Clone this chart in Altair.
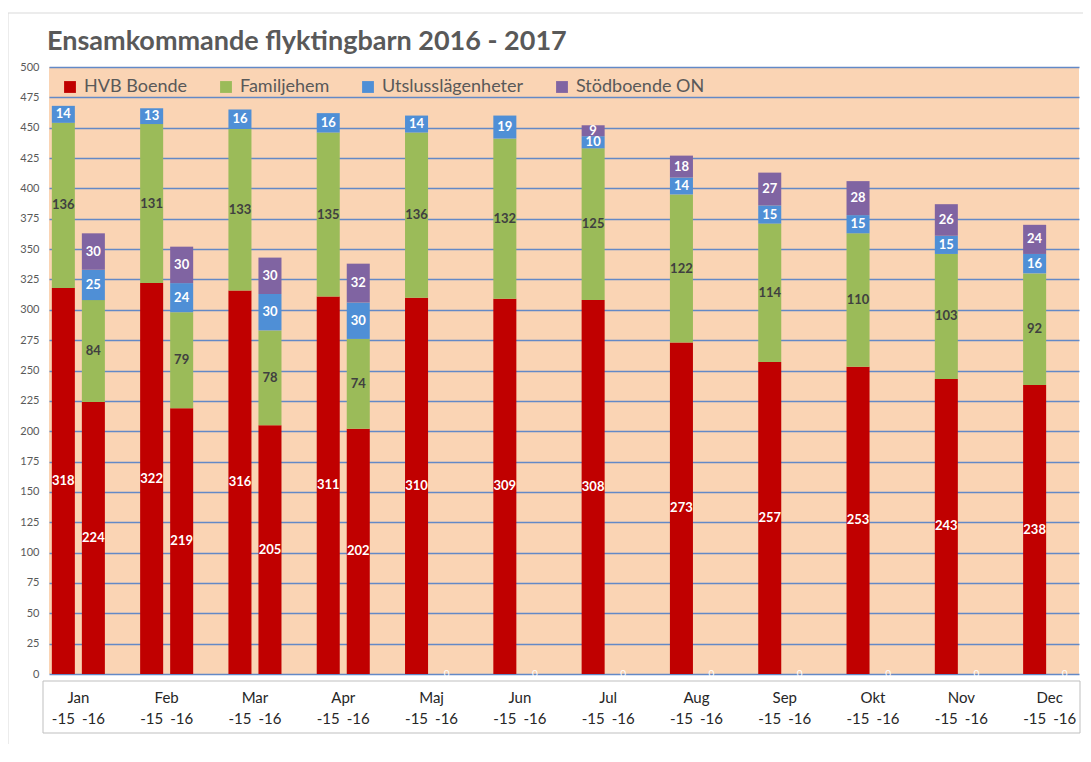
import altair as alt
import pandas as pd

months = ["Jan", "Feb", "Mar", "Apr", "Maj", "Jun", "Jul", "Aug", "Sep", "Okt", "Nov", "Dec"]
years = ["-15", "-16"]
categories = ["HVB Boende", "Familjehem", "Utslusslägenheter", "Stödboende ON"]
colors = ["#C00000", "#9BBB59", "#4F8FD6", "#8064A2"]

# bars "-15"
hvb_15 = [318, 322, 316, 311, 310, 309, 308, 273, 257, 253, 243, 238]
fam_15 = [136, 131, 133, 135, 136, 132, 125, 122, 114, 110, 103, 92]
uts_15 = [14, 13, 16, 16, 14, 19, 10, 14, 15, 15, 15, 16]
stod_15 = [0, 0, 0, 0, 0, 0, 9, 18, 27, 28, 26, 24]

# bars "-16" (only Jan-Apr)
months_16 = ["Jan", "Feb", "Mar", "Apr"]
hvb_16 = [224, 219, 205, 202]
fam_16 = [84, 79, 78, 74]
uts_16 = [25, 24, 30, 30]
stod_16 = [30, 30, 30, 32]

# "-16" slots that only show a 0 label
zero_months_16 = ["Maj", "Jun", "Jul", "Aug", "Sep", "Okt", "Nov", "Dec"]

y_ticks = list(range(0, 501, 25))

title_text = "Ensamkommande flyktingbarn 2016 - 2017"

rows = []
for i, m in enumerate(months):
    for ci, vals in enumerate([hvb_15, fam_15, uts_15, stod_15]):
        if vals[i] > 0:
            rows.append({"month": m, "year": "-15", "cat": categories[ci], "ci": ci, "value": vals[i]})
for i, m in enumerate(months_16):
    for ci, vals in enumerate([hvb_16, fam_16, uts_16, stod_16]):
        if vals[i] > 0:
            rows.append({"month": m, "year": "-16", "cat": categories[ci], "ci": ci, "value": vals[i]})
df = pd.DataFrame(rows)

zero_df = pd.DataFrame({"month": zero_months_16, "year": ["-16"] * len(zero_months_16),
                        "z": [0] * len(zero_months_16)})
year_df = pd.DataFrame([{"month": m, "year": y} for m in months for y in years])
month_df = pd.DataFrame({"month": months})

W, H = 1030, 607
FONT = "Lato"

xscale = alt.Scale(domain=months, paddingInner=0.37, paddingOuter=0.0175)
xoff_scale = alt.Scale(domain=years, paddingInner=0.233, paddingOuter=0.043)
yscale = alt.Scale(domain=[0, 500], nice=False)
yaxis = alt.Axis(values=y_ticks, domain=False, ticks=False, title=None,
                 labelColor="#595959", labelFontSize=11, labelFont=FONT,
                 labelOverlap=False, labelPadding=10,
                 gridColor="#6389C6", gridWidth=1.3)

X = alt.X("month:N", scale=xscale, axis=None, sort=months)
XO = alt.XOffset("year:N", scale=xoff_scale, sort=years)

base = alt.Chart(df).transform_stack(
    stack="value", groupby=["month", "year"], as_=["v0", "v1"],
    sort=[alt.SortField("ci", order="ascending")]
).transform_calculate(
    mid="(datum.v0 + datum.v1) / 2",
    lc="datum.cat == 'Familjehem' ? '#404040' : '#FFFFFF'"
)

bars = base.mark_bar().encode(
    x=X, xOffset=XO,
    y=alt.Y("v0:Q", scale=yscale, title=None, axis=yaxis),
    y2="v1:Q",
    color=alt.Color("cat:N", scale=alt.Scale(domain=categories, range=colors), sort=categories,
                    legend=alt.Legend(orient="none", legendX=12, legendY=11, direction="horizontal",
                                      title=None, symbolType="square", symbolSize=140,
                                      symbolStrokeWidth=0, labelFontSize=18, labelFont=FONT,
                                      labelColor="#595959", columnPadding=29, padding=0,
                                      labelOffset=5, labelLimit=300)),
)

labels = base.mark_text(font=FONT, fontWeight="bold", fontSize=13, baseline="middle").encode(
    x=X, xOffset=XO,
    y=alt.Y("mid:Q", scale=yscale, title=None, axis=yaxis),
    text=alt.Text("value:Q"),
    color=alt.Color("lc:N", scale=None),
)

zeros = alt.Chart(zero_df).mark_text(font=FONT, fontSize=10, color="#FFFFFF", baseline="middle").encode(
    x=X, xOffset=XO, y=alt.Y("z:Q", scale=yscale, title=None, axis=yaxis), text=alt.Text("z:Q")
)

frame = alt.Chart(alt.Data(values=[{}])).mark_rect(fillOpacity=0, stroke="#D9D9D9", strokeWidth=1).encode(
    x=alt.value(-41), x2=alt.value(W + 20), y=alt.value(-54), y2=alt.value(H + 120)
)

xbox = alt.Chart(alt.Data(values=[{}])).mark_rect(fill="#FFFFFF", stroke="#BFBFBF", strokeWidth=1).encode(
    x=alt.value(-6), x2=alt.value(W + 1), y=alt.value(H + 7), y2=alt.value(H + 59)
)

month_labels = alt.Chart(month_df).mark_text(font=FONT, fontSize=15, color="#262626", baseline="middle").encode(
    x=X, y=alt.value(H + 24), text="month:N"
)

year_labels = alt.Chart(year_df).mark_text(font=FONT, fontSize=15, color="#262626", baseline="middle").encode(
    x=X, xOffset=XO, y=alt.value(H + 45), text="year:N"
)

title = alt.Chart(alt.Data(values=[{"t": title_text}])).mark_text(
    font=FONT, fontSize=27, fontWeight="bold", color="#595959", align="left", baseline="alphabetic"
).encode(x=alt.value(-2), y=alt.value(-17), text="t:N")

chart = alt.layer(frame, xbox, bars, labels, zeros, month_labels, year_labels, title).properties(
    width=W, height=H,
    autosize=alt.AutoSizeParams(type="none"),
    padding={"left": 41, "top": 59, "right": 4, "bottom": 70},
).configure_view(fill="#FAD4B4", stroke=None).configure_axisY(labelOverlap=False)

chart.save("out.html", embed_options={"renderer": "svg", "actions": False})
